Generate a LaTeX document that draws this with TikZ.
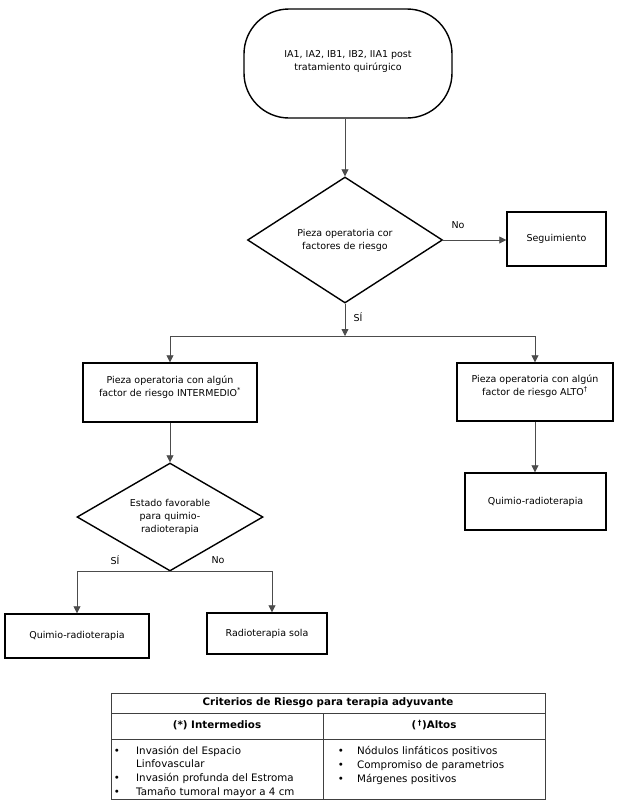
\documentclass[tikz,border=0pt]{standalone}
\usepackage{fontspec}
\setmainfont{DejaVu Sans}
\usetikzlibrary{shapes.geometric,arrows.meta}
\newcommand\fcfont{\fontsize{9.5}{13}\selectfont}
\newcommand\tbfont{\fontsize{10.3}{14}\selectfont}
\begin{document}
\begin{tikzpicture}[x=1pt,y=-1pt,
  shapeline/.style={draw=black, line width=1.4pt},
  procbox/.style={shapeline, rectangle, inner sep=0pt, align=center, font=\fcfont},
  decision/.style={shapeline, diamond, inner sep=0pt, align=center, font=\fcfont},
  conn/.style={draw=black!70, line width=0.8pt},
  arr/.style={conn, -{Triangle[length=7pt,width=7pt]}},
  lbl/.style={font=\fcfont, inner sep=0pt},
  tline/.style={draw=black!75, line width=0.9pt},
  ttext/.style={font=\tbfont, inner sep=0pt},
  thead/.style={font=\tbfont\bfseries, inner sep=0pt},
]
\useasboundingbox (0,0) rectangle (623,807);

% flowchart nodes
\node[procbox, rounded corners=45pt, minimum width=208pt, minimum height=109pt] (start) at (348,63.5) {IA1, IA2, IB1, IB2, IIA1 post\\tratamiento quirúrgico\\[-6pt]\mbox{}};
\node[decision, aspect=1.55, minimum width=195pt, minimum height=126pt] (d1) at (345,240) {Pieza operatoria cor\\factores de riesgo};
\node[procbox, minimum width=99pt, minimum height=54pt] (seg) at (556.5,239) {Seguimiento};
\node[procbox, minimum width=174pt, minimum height=59pt] (inter) at (170,392.5) {Pieza operatoria con algún\\factor de riesgo INTERMEDIO\textsuperscript{*}\\\mbox{}};
\node[procbox, minimum width=156pt, minimum height=58pt] (alto) at (535,392) {Pieza operatoria con algún\\factor de riesgo ALTO\textsuperscript{†}\\\mbox{}};
\node[procbox, minimum width=141pt, minimum height=57pt] (q2) at (535.5,501.5) {Quimio-radioterapia};
\node[decision, aspect=1.72, minimum width=186pt, minimum height=108pt] (d2) at (170,517) {Estado favorable\\para quimio-\\radioterapia};
\node[procbox, minimum width=144pt, minimum height=44pt] (q1) at (77,636) {Quimio-radioterapia};
\node[procbox, minimum width=120pt, minimum height=41pt] (rs) at (267,633.5) {Radioterapia sola};

% labels
\node[lbl] (no1) at (458,225) {No};
\node[lbl] (si1) at (358,317) {SÍ};
\node[lbl] (si2) at (115,560) {SÍ};
\node[lbl] (no2) at (218,560) {No};

% connectors
\coordinate (j1) at (345,336);
\draw[arr] (d1.north |- start.south) -- (d1.north);
\draw[arr] (d1.east) -- (d1.east -| seg.west);
\draw[arr] (d1.south) -- (j1);
\draw[arr] (j1) -| (inter.north);
\draw[arr] (j1) -| (alto.north);
\draw[arr] (inter.south) -- (d2.north);
\draw[arr] (alto.south) -- (alto.south |- q2.north);
\draw[arr] (d2.south) -| (q1.north);
\draw[arr] (d2.south) -| ([xshift=5pt]rs.north);

% table
\coordinate (tnw) at (111,693);
\coordinate (tse) at (545,799);
\draw[tline] (tnw) rectangle (tse);
\draw[tline] (111,713) -- (545,713);
\draw[tline] (111,739) -- (545,739);
\draw[tline] (323,713) -- (323,799);

\node[thead] (th) at (328,702.5) {Criterios de Riesgo para terapia adyuvante};
\node[thead] (tc1) at (217,725) {(*) Intermedios};
\node[thead] (tc2) at (434,725) {(\,\textsuperscript{†})Altos};

\node[ttext, anchor=base] (lb1) at (117,754) {•};
\node[ttext, anchor=base west] (lt1) at (136,754) {Invasión del Espacio};
\node[ttext, anchor=base west] (lt1b) at (136,767) {Linfovascular};
\node[ttext, anchor=base] (lb2) at (117,781) {•};
\node[ttext, anchor=base west] (lt2) at (136,781) {Invasión profunda del Estroma};
\node[ttext, anchor=base] (lb3) at (117,795) {•};
\node[ttext, anchor=base west] (lt3) at (136,795) {Tamaño tumoral mayor a 4 cm};

\node[ttext, anchor=base] (rb1) at (341,754) {•};
\node[ttext, anchor=base west] (rt1) at (357,754) {Nódulos linfáticos positivos};
\node[ttext, anchor=base] (rb2) at (341,768) {•};
\node[ttext, anchor=base west] (rt2) at (357,768) {Compromiso de parametrios};
\node[ttext, anchor=base] (rb3) at (341,782) {•};
\node[ttext, anchor=base west] (rt3) at (357,782) {Márgenes positivos};
\end{tikzpicture}
\end{document}
